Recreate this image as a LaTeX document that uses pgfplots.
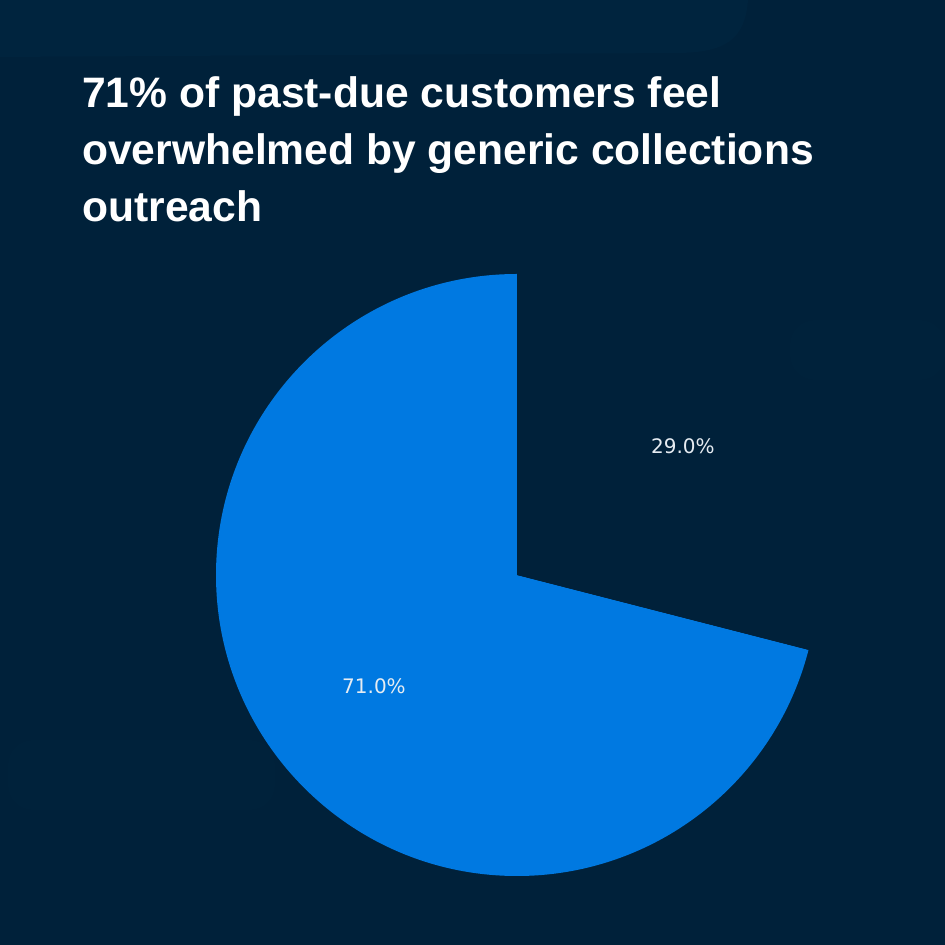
\documentclass[border=0pt]{standalone}
\usepackage{pgfplots}
\pgfplotsset{compat=1.18}
\usepackage{pgfplotstable}
\usepackage{fontspec}
\setmainfont{Liberation Sans}
\newfontfamily\djv{DejaVu Sans}
\definecolor{bg}{HTML}{00213A}
\definecolor{bgl}{HTML}{00243E}
\definecolor{bgf}{HTML}{00223B}
\definecolor{pieblue}{HTML}{0079E1}
\definecolor{lbl}{HTML}{E6ECF2}
\pgfplotstableread{
label value
Overwhelmed 71
Other 29
}\piedata
\pgfplotstablegetelem{0}{value}\of\piedata \let\valA\pgfplotsretval
\pgfplotstablegetelem{1}{value}\of\piedata \let\valB\pgfplotsretval
\pgfmathsetmacro\angA{\valA*3.6}
\pgfmathsetmacro\angB{\valB*3.6}
\pgfmathsetmacro\endA{90+\angA}
\pgfmathsetmacro\midA{90+\angA/2}
\pgfmathsetmacro\midB{\endA+\angB/2}
\pgfmathsetmacro\lAx{517+181*cos(\midA)}
\pgfmathsetmacro\lAy{370+181*sin(\midA)}
\pgfmathsetmacro\lBx{517+210*cos(\midB)}
\pgfmathsetmacro\lBy{370+210*sin(\midB)}
\begin{document}
\begin{tikzpicture}
\begin{axis}[scale only axis, width=945pt, height=945pt,
  xmin=0, xmax=945, ymin=0, ymax=945, hide axis, clip=true]
\fill[bg] (axis cs:0,0) rectangle (axis cs:945,945);
\fill[bgl] (axis cs:0,945) -- (axis cs:748,945) .. controls (axis cs:745,905) and (axis cs:725,893) .. (axis cs:680,892) -- (axis cs:0,888) -- cycle;
\fill[bgf, rounded corners=25pt] (axis cs:790,565) rectangle (axis cs:945,625);
\fill[bgf, rounded corners=25pt] (axis cs:8,135) rectangle (axis cs:275,205);
\fill[pieblue] (axis cs:517,370) -- ++(90:301pt) arc[start angle=90, delta angle=\angA, radius=301pt] -- cycle;
\fill[bg] (axis cs:517,370) -- ++(\endA:301pt) arc[start angle=\endA, delta angle=\angB, radius=301pt] -- cycle;
\node[font=\djv\fontsize{20}{24}\selectfont, text=lbl] at (axis cs:\lAx,\lAy) {71.0\%};
\node[font=\djv\fontsize{20}{24}\selectfont, text=lbl] at (axis cs:\lBx,\lBy) {29.0\%};
\node[anchor=base west, inner sep=0pt, text=white, font=\bfseries\fontsize{42.6}{50}\selectfont] at (axis cs:82,837) {71\% of past-due customers feel};
\node[anchor=base west, inner sep=0pt, text=white, font=\bfseries\fontsize{42.6}{50}\selectfont] at (axis cs:82,780) {overwhelmed by generic collections};
\node[anchor=base west, inner sep=0pt, text=white, font=\bfseries\fontsize{42.6}{50}\selectfont] at (axis cs:82,723) {outreach};
\end{axis}
\end{tikzpicture}
\end{document}
